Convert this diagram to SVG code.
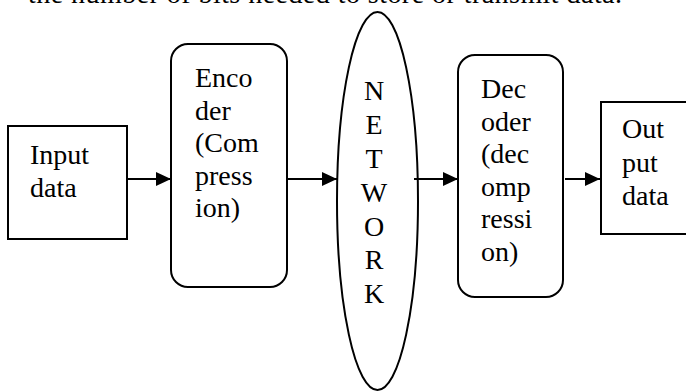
<svg xmlns="http://www.w3.org/2000/svg" width="686" height="392" viewBox="0 0 686 392">
<defs>
<style>
.box{fill:#fff;stroke:#000;stroke-width:2}
.lbl{font-family:"Liberation Serif","Times New Roman",serif;font-size:28px;fill:#000}
.conn{stroke:#000;stroke-width:2;fill:none;marker-end:url(#ah)}
</style>
<marker id="ah" viewBox="0 0 15 14" refX="15" refY="7" markerWidth="15" markerHeight="14" markerUnits="userSpaceOnUse" orient="auto">
<path d="M0,0 L15,7 L0,14 z" fill="#000"/>
</marker>
</defs>
<rect width="686" height="392" fill="#fff"/>
<text class="lbl" x="28" y="3" textLength="594" lengthAdjust="spacing">the number of bits needed to store or transmit data.</text>
<g id="input">
<rect class="box" x="8" y="126" width="119" height="113"/>
<text class="lbl"><tspan x="30" y="164">Input</tspan><tspan x="30" y="197">data</tspan></text>
</g>
<g id="encoder">
<rect class="box" x="171" y="44" width="116" height="243" rx="17" ry="17"/>
<text class="lbl"><tspan x="195" y="87">Enco</tspan><tspan x="195" y="119.5">der</tspan><tspan x="195" y="152">(Com</tspan><tspan x="195" y="184.5">press</tspan><tspan x="195" y="217">ion)</tspan></text>
</g>
<g id="network">
<ellipse class="box" cx="377.5" cy="201" rx="40.5" ry="189"/>
<text class="lbl" text-anchor="middle"><tspan x="374" y="100">N</tspan><tspan x="374" y="134">E</tspan><tspan x="374" y="168">T</tspan><tspan x="374" y="201.5">W</tspan><tspan x="374" y="235.5">O</tspan><tspan x="374" y="269">R</tspan><tspan x="374" y="303">K</tspan></text>
</g>
<g id="decoder">
<rect class="box" x="458" y="55" width="105" height="242" rx="17" ry="17"/>
<text class="lbl"><tspan x="481" y="98">Dec</tspan><tspan x="481" y="130.5">oder</tspan><tspan x="481" y="163">(dec</tspan><tspan x="481" y="195.5">omp</tspan><tspan x="481" y="228">ressi</tspan><tspan x="481" y="260.5">on)</tspan></text>
</g>
<g id="output">
<rect class="box" x="601" y="102" width="120" height="132"/>
<text class="lbl"><tspan x="622" y="138">Out</tspan><tspan x="622" y="171.5">put</tspan><tspan x="622" y="205">data</tspan></text>
</g>
<g id="connectors">
<line class="conn" x1="127" y1="179" x2="171" y2="179"/>
<line class="conn" x1="287" y1="179" x2="337" y2="179"/>
<line class="conn" x1="414" y1="179" x2="458" y2="179"/>
<line class="conn" x1="565" y1="179" x2="600" y2="179"/>
</g>
</svg>
